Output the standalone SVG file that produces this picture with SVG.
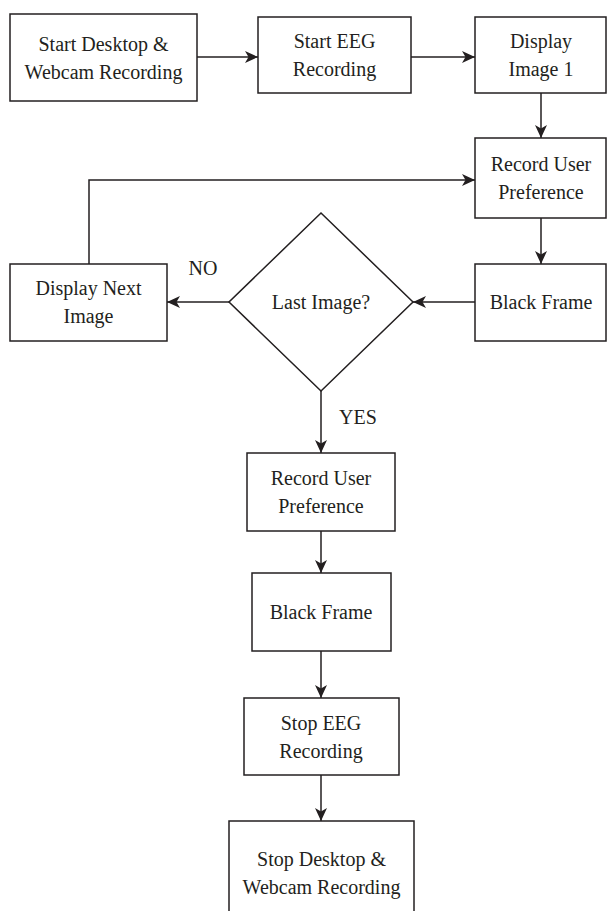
<svg xmlns="http://www.w3.org/2000/svg" width="607" height="911" viewBox="0 0 607 911">
<defs>
<style>
.box{fill:#fff;stroke:#231f20;stroke-width:1.5}
.lbl{font-family:"Liberation Serif",serif;font-size:20px;fill:#231f20;text-anchor:middle}
.edge{fill:none;stroke:#231f20;stroke-width:1.5}
</style>
<marker id="ah" markerUnits="userSpaceOnUse" markerWidth="14" markerHeight="12" refX="13" refY="6" orient="auto">
<path d="M0,0 L13,6 L0,12 L3.5,6 z" fill="#231f20"/>
</marker>
</defs>
<rect width="607" height="911" fill="#fff"/>
<g id="connectors">
<line class="edge" x1="197" y1="57" x2="258" y2="57" marker-end="url(#ah)"/>
<line class="edge" x1="411" y1="57" x2="475" y2="57" marker-end="url(#ah)"/>
<line class="edge" x1="541" y1="93" x2="541" y2="138" marker-end="url(#ah)"/>
<line class="edge" x1="541" y1="218" x2="541" y2="264" marker-end="url(#ah)"/>
<line class="edge" x1="475" y1="302" x2="413" y2="302" marker-end="url(#ah)"/>
<line class="edge" x1="229" y1="302" x2="167" y2="302" marker-end="url(#ah)"/>
<polyline class="edge" points="89,264 89,180 475,180" marker-end="url(#ah)"/>
<line class="edge" x1="321" y1="391" x2="321" y2="453" marker-end="url(#ah)"/>
<line class="edge" x1="321" y1="531" x2="321" y2="573" marker-end="url(#ah)"/>
<line class="edge" x1="321" y1="651" x2="321" y2="698" marker-end="url(#ah)"/>
<line class="edge" x1="321" y1="775" x2="321" y2="821" marker-end="url(#ah)"/>
<text class="lbl" x="203" y="275">NO</text>
<text class="lbl" x="358" y="424">YES</text>
</g>
<g id="n1">
<rect class="box" x="10" y="14" width="187" height="87"/>
<text class="lbl" x="103.5" y="51">Start Desktop &amp;</text>
<text class="lbl" x="103.5" y="79">Webcam Recording</text>
</g>
<g id="n2">
<rect class="box" x="258" y="17" width="153" height="76"/>
<text class="lbl" x="334.5" y="48">Start EEG</text>
<text class="lbl" x="334.5" y="76">Recording</text>
</g>
<g id="n3">
<rect class="box" x="475" y="17" width="131" height="76"/>
<text class="lbl" x="541" y="48">Display</text>
<text class="lbl" x="541" y="76">Image 1</text>
</g>
<g id="n4">
<rect class="box" x="475" y="138" width="131" height="80"/>
<text class="lbl" x="541" y="171">Record User</text>
<text class="lbl" x="541" y="199">Preference</text>
</g>
<g id="n5">
<rect class="box" x="475" y="264" width="131" height="77"/>
<text class="lbl" x="541" y="309">Black Frame</text>
</g>
<g id="n6">
<polygon class="box" points="321,213 413,302 321,391 229,302"/>
<text class="lbl" x="321" y="309">Last Image?</text>
</g>
<g id="n7">
<rect class="box" x="10" y="264" width="157" height="77"/>
<text class="lbl" x="88.5" y="295">Display Next</text>
<text class="lbl" x="88.5" y="323">Image</text>
</g>
<g id="n8">
<rect class="box" x="247" y="453" width="148" height="78"/>
<text class="lbl" x="321" y="485">Record User</text>
<text class="lbl" x="321" y="513">Preference</text>
</g>
<g id="n9">
<rect class="box" x="252" y="573" width="139" height="78"/>
<text class="lbl" x="321" y="619">Black Frame</text>
</g>
<g id="n10">
<rect class="box" x="244" y="698" width="155" height="77"/>
<text class="lbl" x="321" y="730">Stop EEG</text>
<text class="lbl" x="321" y="758">Recording</text>
</g>
<g id="n11">
<rect class="box" x="229" y="821" width="185" height="100"/>
<text class="lbl" x="321.5" y="866">Stop Desktop &amp;</text>
<text class="lbl" x="321.5" y="894">Webcam Recording</text>
</g>
</svg>
